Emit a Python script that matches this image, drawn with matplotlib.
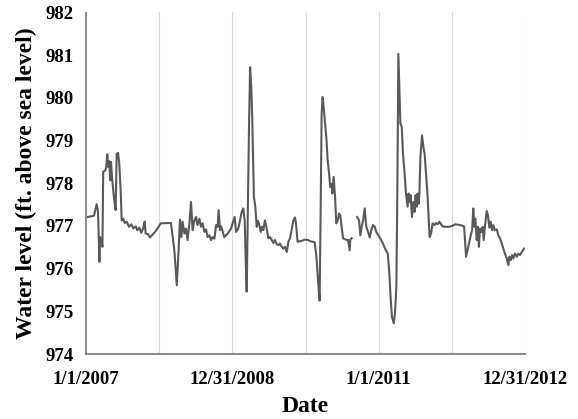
import numpy as np
import matplotlib
matplotlib.use("Agg")
import matplotlib.pyplot as plt

# days since 1/1/2007 and water level (ft above sea level); NaN marks a data gap
days = [0, 40, 53, 60, 67, 70, 77, 82, 86, 96, 101, 106, 111, 116, 121, 125, 131, 140, 148, 153,
        160, 166, 173, 178, 186, 193, 203, 215, 226, 236, 248, 256, 266, 276, 286, 293, 298, 309,
        319, 329, 348, 373, 424, 441, 453, 463, 469, 476, 482, 491, 499, 507, 516, 524, 532, 541,
        549, 557, 566, 574, 582, 591, 599, 607, 616, 624, 632, 641, 649, 657, 662, 669, 675, 690,
        707, 724, 732, 742, 749, 760, 769, 777, 785, 792, 797, 802, 807, 814, 819, 825, 830, 838,
        845, 852, 858, 865, 872, 878, 885, 893, 902, 910, 918, 927, 935, 943, 952, 960, 968, 977,
        985, 993, 1002, 1010, 1018, 1026, 1035, 1043, 1048, 1056, 1076, 1093, 1108, 1120, 1141,
        1150, 1158, 1166, 1171, 1176, 1181, 1186, 1193, 1200, 1206, 1213, 1219, 1226, 1229, 1236,
        1243, 1249, 1256, 1263, 1269, 1276, 1283, 1296, 1308, 1316, 1319, 1326, 1340,
        1353, 1363, 1369, 1376, 1383, 1391, 1399, 1408, 1416, 1424, 1432, 1441, 1449, 1462, 1472,
        1481, 1489, 1497, 1506, 1514, 1521, 1527, 1536, 1542, 1549, 1554, 1559, 1564, 1569, 1576,
        1582, 1589, 1597, 1605, 1610, 1615, 1620, 1627, 1634, 1640, 1645, 1650, 1655, 1660, 1664,
        1669, 1677, 1684, 1690, 1697, 1704, 1710, 1715, 1722, 1730, 1739, 1747, 1755, 1764, 1772,
        1780, 1797, 1813, 1837, 1842, 1867, 1887, 1897, 1908, 1920, 1927, 1933, 1938, 1943, 1950,
        1956, 1961, 1966, 1973, 1980, 1985, 1991, 2000, 2006, 2013, 2020, 2026, 2033, 2040, 2050,
        2058, 2066, 2075, 2083, 2091, 2100, 2108, 2113, 2120, 2126, 2133, 2141, 2150, 2158, 2166,
        2175, 2186]
level = [977.20, 977.24, 977.51, 977.33, 976.16, 976.74, 976.67, 976.51, 978.27, 978.30, 978.38,
         978.68, 978.38, 978.52, 978.07, 978.50, 978.07, 977.64, 977.37, 978.69, 978.71, 978.46,
         977.84, 977.13, 977.17, 977.07, 977.10, 976.98, 977.04, 976.94, 976.99, 976.90, 976.96,
         976.84, 976.95, 977.10, 976.82, 976.81, 976.73, 976.78, 976.88, 977.06, 977.07, 976.43,
         975.61, 976.51, 977.15, 976.74, 977.10, 976.82, 976.94, 976.67, 977.06, 977.56, 976.90,
         977.13, 977.21, 977.02, 977.17, 976.98, 977.06, 976.86, 976.92, 976.74, 976.78, 976.67,
         976.74, 976.70, 977.02, 976.98, 977.37, 976.90, 976.99, 976.74, 976.82, 976.94, 977.06,
         977.21, 976.86, 976.94, 977.13, 977.33, 977.41, 977.13, 976.20, 975.46, 977.13, 979.47,
         980.72, 980.25, 979.47, 977.68, 977.45, 976.98, 977.12, 977.02, 976.86, 976.98, 976.90,
         977.13, 976.94, 976.71, 976.74, 976.67, 976.60, 976.67, 976.57, 976.55, 976.59, 976.51,
         976.47, 976.51, 976.39, 976.63, 976.71, 976.90, 977.13, 977.20, 977.06, 976.63, 976.65,
         976.68, 976.67, 976.64, 976.62, 976.28, 975.73, 975.25, 977.29, 979.63, 980.02, 979.79,
         979.40, 979.04, 978.54, 978.23, 977.91, 977.99, 977.76, 978.15, 977.68, 977.06, 977.13,
         977.29, 977.25, 976.98, 976.71, 976.68, 976.67, 976.43, 976.68, 976.71, np.nan,
         977.21, 977.13, 976.78, 976.98, 977.13, 977.41, 976.98, 976.86, 976.73, 976.90, 977.02,
         976.98, 976.86, 976.76, 976.68, 976.60, 976.51, 976.43, 976.35, 975.89, 975.26, 974.87,
         974.72, 974.95, 975.58, 977.91, 981.03, 980.25, 979.40, 979.32, 978.69, 978.30, 977.76,
         977.45, 977.76, 977.56, 977.72, 977.21, 977.56, 977.33, 977.72, 977.45, 977.76, 977.52,
         977.76, 978.62, 979.12, 978.85, 978.69, 978.23, 977.76, 977.21, 976.74, 976.82, 977.06,
         977.02, 977.07, 977.04, 977.10, 977.04, 976.99, 976.98, 976.98, 977.02, 977.04, 977.02,
         976.99, 976.28, 976.51, 976.78, 976.90, 977.41, 976.98, 977.17, 976.67, 976.98, 976.51,
         976.94, 976.86, 976.98, 976.67, 976.98, 977.35, 977.25, 976.96, 977.10, 976.90, 977.02,
         976.90, 976.92, 976.78, 976.71, 976.59, 976.47, 976.35, 976.24, 976.08, 976.28, 976.20,
         976.32, 976.24, 976.35, 976.28, 976.35, 976.32, 976.39, 976.47]

tick_days = [0, 730, 1461, 2191]
tick_labels = ["1/1/2007", "12/31/2008", "1/1/2011", "12/31/2012"]
grid_days = [365, 730, 1096, 1461, 1826, 2191]
y_ticks = [974, 975, 976, 977, 978, 979, 980, 981, 982]

plt.rcParams['font.family'] = ['Liberation Serif', 'DejaVu Serif']
plt.rcParams['font.weight'] = 'bold'

fig = plt.figure(figsize=(5.78, 4.19), dpi=100)
ax = fig.add_axes([86/578, 1 - 354/419, (525 - 86)/578, (354 - 12.5)/419])

for g in grid_days:
    ax.axvline(g, color='#d9d9d9', lw=0.8, zorder=0)

ax.plot(days, level, color='#595959', lw=1.5, zorder=2)

ax.set_xlim(0, 2191)
ax.set_ylim(974, 982)
ax.set_xticks(tick_days)
ax.set_xticklabels(tick_labels)
ax.set_yticks(y_ticks)
ax.tick_params(axis='both', length=0, labelsize=13.5)
ax.tick_params(axis='x', pad=12)
ax.tick_params(axis='y', pad=9)
for lab in ax.get_xticklabels() + ax.get_yticklabels():
    lab.set_fontweight('bold')

for s in ['top', 'right']:
    ax.spines[s].set_visible(False)
for s in ['left', 'bottom']:
    ax.spines[s].set_color('#8c8c8c')
    ax.spines[s].set_linewidth(1.5)

ax.set_xlabel('Date', fontsize=17, fontweight='bold', labelpad=6)
ax.set_ylabel('Water level (ft. above sea level)', fontsize=17, fontweight='bold', labelpad=6)

fig.savefig('out.png', dpi=100)
